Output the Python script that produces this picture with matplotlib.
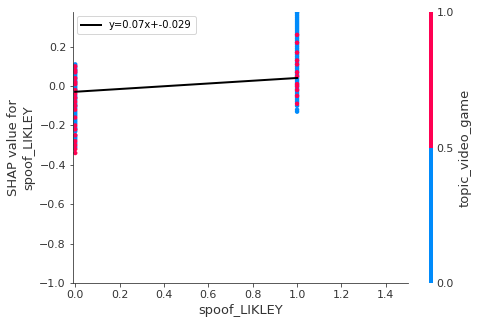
import numpy as np
import matplotlib
matplotlib.use("Agg")
import matplotlib.pyplot as plt
from matplotlib.colors import ListedColormap, BoundaryNorm

# Data: SHAP values at spoof_LIKLEY = 0 and 1, with topic_video_game colouring
shap_x0_blue = [0.11, 0.10, 0.09, 0.08, 0.07, 0.06, 0.05, 0.04, 0.03, 0.02, 0.01, 0.00, -0.01,
                -0.03, -0.05, -0.07, -0.09, -0.11, -0.13, -0.15, -0.17, -0.19, -0.21, -0.23,
                -0.25, -0.27, -0.29, -0.31, -0.02, -0.06, -0.10, -0.14, -0.18, -0.22, -0.26]
shap_x0_red = [0.10, 0.07, 0.04, 0.01, -0.02, -0.04, -0.08, -0.10, -0.12, -0.16, -0.20, -0.22,
               -0.25, -0.28, -0.30, -0.32, -0.34, 0.08, 0.02, -0.06]
shap_x1_blue = [0.376, 0.37, 0.36, 0.35, 0.34, 0.33, 0.32, 0.31, 0.30, 0.29, 0.28, 0.27, 0.26,
                0.25, 0.24, 0.23, 0.22, 0.21, 0.20, 0.19, 0.18, 0.17, 0.16, 0.15, 0.14, 0.13,
                0.12, 0.11, 0.10, 0.09, 0.08, 0.07, 0.06, 0.05, 0.04, 0.03, 0.02, 0.01, 0.00,
                -0.01, -0.02, -0.03, -0.04, -0.05, -0.06, -0.07, -0.08, -0.10, -0.12, -0.13]
shap_x1_red = [0.26, 0.22, 0.17, 0.13, 0.11, 0.07, 0.05, 0.01, 0.00, -0.02, -0.05, -0.09]
feature_x0 = 0.0
feature_x1 = 1.0
slope = 0.07
intercept = -0.029
line_x = [0.0, 1.0]

x_ticks = [0.0, 0.2, 0.4, 0.6, 0.8, 1.0, 1.2, 1.4]
y_ticks = [-1.0, -0.8, -0.6, -0.4, -0.2, 0.0, 0.2]
cbar_ticks = [0.0, 0.5, 1.0]

blue = "#008bfb"
red = "#ff0052"

fig = plt.figure(figsize=(478 / 72, 324 / 72), dpi=72)
ax = fig.add_axes([73 / 478, 1 - 283 / 324, (408 - 73) / 478, (283 - 12) / 324])
cax = fig.add_axes([429 / 478, 1 - 283 / 324, 4 / 478, (283 - 12) / 324])

xs = [feature_x0] * len(shap_x0_blue) + [feature_x1] * len(shap_x1_blue) \
    + [feature_x0] * len(shap_x0_red) + [feature_x1] * len(shap_x1_red)
ys = shap_x0_blue + shap_x1_blue + shap_x0_red + shap_x1_red
cs = [0] * (len(shap_x0_blue) + len(shap_x1_blue)) + [1] * (len(shap_x0_red) + len(shap_x1_red))

cmap = ListedColormap([blue, red])
norm = BoundaryNorm([0, 0.5, 1.0], 2)
sc = ax.scatter(xs, ys, c=cs, cmap=cmap, norm=norm, s=20, linewidths=0, zorder=2)

ly = [slope * v + intercept for v in line_x]
ax.plot(line_x, ly, color="black", lw=2, label="y=0.07x+-0.029", zorder=3)
ax.legend(loc="upper left", fontsize=10, frameon=True, borderaxespad=0.4)

ax.set_xlim(-0.01, 1.5)
ax.set_ylim(-1.0, 0.376)
ax.set_xticks(x_ticks)
ax.set_yticks(y_ticks)
ax.spines["top"].set_visible(False)
ax.spines["right"].set_visible(False)
ax.spines["left"].set_color("#333333")
ax.spines["bottom"].set_color("#333333")
ax.tick_params(labelsize=11, colors="#333333", labelcolor="#333333")
ax.set_xlabel("spoof_LIKLEY", fontsize=13, color="#333333")
ax.set_ylabel("SHAP value for\nspoof_LIKLEY", fontsize=13, color="#333333")

cb = fig.colorbar(sc, cax=cax, ticks=cbar_ticks)
cb.outline.set_visible(False)
cb.ax.tick_params(length=0, labelsize=11, colors="#333333")
cb.set_label("topic_video_game", fontsize=13, color="#333333", labelpad=5)

fig.savefig("out.png", dpi=72)
